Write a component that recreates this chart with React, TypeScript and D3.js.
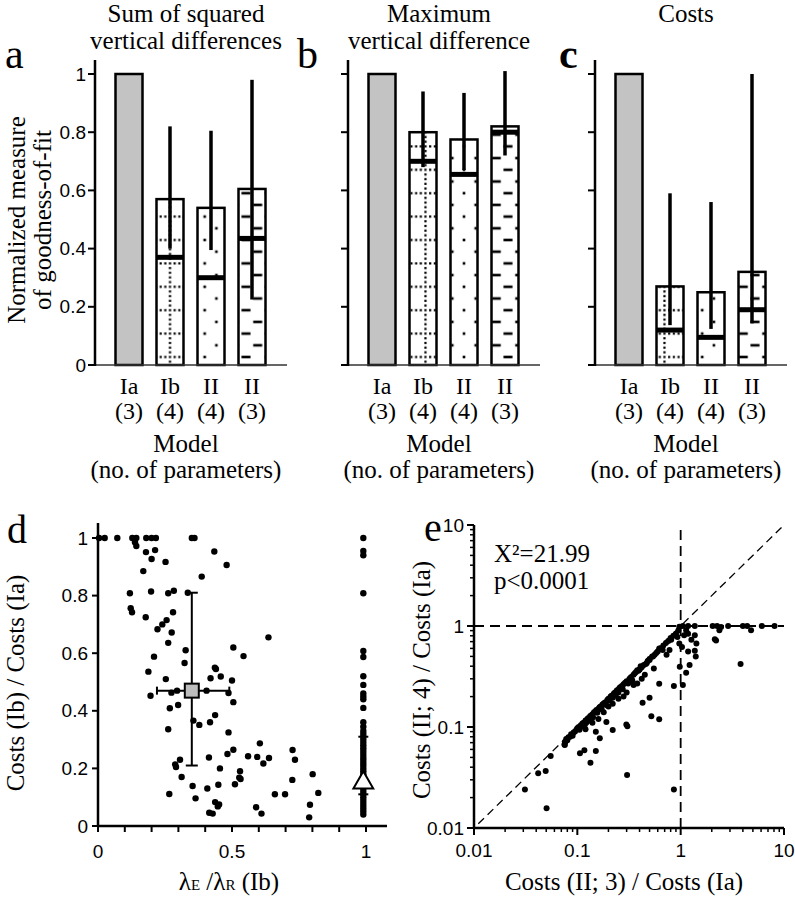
import React from "react";
import * as d3 from "d3";

// ---------- Data: panels a–c ----------
const barKeys = ["Ia3", "Ib4", "II4", "II3"];
const modelNames = ["Ia", "Ib", "II", "II"];
const paramCounts = ["(3)", "(4)", "(4)", "(3)"];
const barYTicks = [0, 0.2, 0.4, 0.6, 0.8, 1];
const barYTickLabels = ["0", "0.2", "0.4", "0.6", "0.8", "1"];

const ssdMean = [1, 0.57, 0.54, 0.605];
const ssdMedian = [null, 0.37, 0.3, 0.435];
const ssdLo = [null, 0.4, 0.395, 0.225];
const ssdHi = [null, 0.82, 0.805, 0.98];

const maxMean = [1, 0.8, 0.775, 0.82];
const maxMedian = [null, 0.7, 0.655, 0.8];
const maxLo = [null, 0.68, 0.67, 0.72];
const maxHi = [null, 0.94, 0.935, 1.01];

const costMean = [1, 0.27, 0.25, 0.32];
const costMedian = [null, 0.12, 0.095, 0.19];
const costLo = [null, 0.137, 0.124, 0.143];
const costHi = [null, 0.59, 0.56, 1.0];

// ---------- Data: panel d ----------
const dX = [0.004, 0.025, 0.072, 0.128, 0.143, 0.18, 0.2, 0.216, 0.35, 0.36, 0.138, 0.143,
  0.179, 0.213, 0.2, 0.252, 0.169, 0.434, 0.48, 0.387, 0.119, 0.198, 0.262, 0.283, 0.335,
  0.122, 0.127, 0.178, 0.28, 0.256, 0.24, 0.222, 0.275, 0.262, 0.209, 0.327, 0.323, 0.505, 0.543, 0.636,
  0.436, 0.188, 0.196, 0.253, 0.274, 0.295, 0.268, 0.299, 0.262, 0.356, 0.378, 0.405, 0.42, 0.458, 0.44,
  0.487, 0.5, 0.505, 0.437, 0.418, 0.487, 0.483, 0.505, 0.414, 0.455, 0.56, 0.594, 0.604, 0.638, 0.617,
  0.53, 0.527, 0.532, 0.511, 0.288, 0.291, 0.306, 0.312, 0.266, 0.353, 0.364, 0.408, 0.449, 0.437, 0.452,
  0.447, 0.415, 0.428, 0.59, 0.61, 0.66, 0.726, 0.735, 0.725, 0.698, 0.801, 0.822, 0.791, 0.788];
const dY = [1, 1, 1, 1, 1, 1, 1, 1, 1, 1, 0.985, 0.972,
  0.951, 0.958, 0.927, 0.917, 0.885, 0.953, 0.906, 0.866, 0.808, 0.814, 0.808, 0.817, 0.81,
  0.756, 0.742, 0.725, 0.742, 0.715, 0.7, 0.683, 0.672, 0.636, 0.588, 0.61, 0.566, 0.62, 0.59, 0.655,
  0.55, 0.536, 0.452, 0.51, 0.463, 0.47, 0.409, 0.42, 0.336, 0.366, 0.351, 0.47, 0.513, 0.519, 0.545,
  0.462, 0.505, 0.43, 0.385, 0.36, 0.325, 0.25, 0.265, 0.238, 0.2, 0.242, 0.24, 0.287, 0.236, 0.217,
  0.19, 0.168, 0.163, 0.145, 0.214, 0.205, 0.23, 0.17, 0.111, 0.139, 0.096, 0.13, 0.143, 0.083, 0.075,
  0.068, 0.046, 0.043, 0.065, 0.043, 0.11, 0.264, 0.23, 0.16, 0.11, 0.18, 0.115, 0.074, 0.03];
// points at lambda ratio = 1
const dColumnY = [1.0, 0.955, 0.94, 0.808, 0.608, 0.587, 0.52, 0.49, 0.46, 0.45, 0.44, 0.41, 0.36, 0.345,
  0.33, 0.32, 0.31, 0.3, 0.29, 0.28, 0.27, 0.26, 0.25, 0.24, 0.23, 0.22, 0.21, 0.2, 0.19, 0.18, 0.17,
  0.16, 0.15, 0.14, 0.13, 0.12, 0.11, 0.1, 0.09, 0.08, 0.07, 0.06, 0.05, 0.04];
const dColumnX = 0.99;
const dSummarySquare = { x: 0.35, y: 0.47, xLo: 0.22, xHi: 0.49, yLo: 0.21, yHi: 0.81 };
const dSummaryTriangle = { x: 0.99, y: 0.15, yLo: 0.11, yHi: 0.31 };
const dXTicks = [0, 0.1, 0.2, 0.3, 0.4, 0.5, 0.6, 0.7, 0.8, 0.9, 1];
const dXTickLabels = [[0, "0"], [0.5, "0.5"], [1, "1"]];
const dYTicks = [0, 0.2, 0.4, 0.6, 0.8, 1];
const dYTickLabels = ["0", "0.2", "0.4", "0.6", "0.8", "1"];

// ---------- Data: panel e ----------
const eX = [0.075, 0.077, 0.078, 0.08, 0.082, 0.085, 0.087, 0.09, 0.092, 0.095, 0.098, 0.1, 0.103, 0.105,
  0.108, 0.11, 0.112, 0.115, 0.118, 0.12, 0.122, 0.125, 0.128, 0.13, 0.133, 0.136, 0.14, 0.142, 0.145,
  0.15, 0.153, 0.156, 0.16, 0.164, 0.168, 0.172, 0.175, 0.18, 0.185, 0.19, 0.195, 0.2, 0.205, 0.21, 0.215,
  0.22, 0.225, 0.23, 0.235, 0.24, 0.245, 0.25, 0.255, 0.26, 0.27, 0.275, 0.28, 0.29, 0.3, 0.31, 0.32,
  0.33, 0.34, 0.35, 0.36, 0.37, 0.39, 0.4, 0.42, 0.44, 0.46, 0.48, 0.5, 0.53, 0.56, 0.6, 0.64, 0.68, 0.72,
  0.76, 0.8, 0.85, 0.9, 0.95,
  0.12, 0.14, 0.18, 0.2, 0.25, 0.3, 0.35, 0.42, 0.28, 0.38, 0.45, 0.55, 0.16, 0.22,
  0.0311, 0.0504, 0.0418, 0.0494, 0.0552, 0.0757, 0.076, 0.106, 0.117, 0.134, 0.151, 0.151, 0.165,
  0.191, 0.22, 0.298, 0.305, 0.303, 0.428, 0.5, 0.52, 0.62, 0.62, 0.86, 0.86, 0.98, 1.05, 1.13, 1.22, 3.8,
  1.18, 1.37, 2.04, 2.25, 2.46, 2.88, 4.0, 4.4, 4.8, 6.1, 8.1, 2.37, 2.14, 2.2,
  0.97, 1.05, 1.13, 1.08, 1.18, 1.27, 1.37, 1.42, 1.37, 1.4, 1.18, 1.03, 0.97, 0.93, 0.81, 0.78, 0.73,
  0.67, 0.62, 0.58, 0.54, 0.5, 0.47, 0.41, 0.4, 0.38];
const eY = [0.067, 0.072, 0.076, 0.074, 0.079, 0.08, 0.085, 0.082, 0.088, 0.09, 0.094, 0.097, 0.1, 0.094,
  0.104, 0.101, 0.108, 0.11, 0.105, 0.116, 0.11, 0.12, 0.123, 0.115, 0.128, 0.13, 0.134, 0.125, 0.14,
  0.143, 0.147, 0.138, 0.152, 0.157, 0.16, 0.15, 0.167, 0.171, 0.175, 0.165, 0.185, 0.19, 0.183, 0.2, 0.204,
  0.195, 0.214, 0.218, 0.205, 0.228, 0.232, 0.22, 0.242, 0.247, 0.255, 0.236, 0.265, 0.275, 0.284, 0.27, 0.3,
  0.31, 0.29, 0.33, 0.34, 0.35, 0.36, 0.37, 0.39, 0.41, 0.42, 0.45, 0.47, 0.5, 0.52, 0.56, 0.6, 0.64, 0.68,
  0.71, 0.76, 0.8, 0.84, 0.9,
  0.095, 0.11, 0.14, 0.16, 0.19, 0.22, 0.26, 0.3, 0.2, 0.27, 0.33, 0.38, 0.12, 0.17,
  0.0241, 0.0157, 0.0348, 0.0367, 0.0516, 0.0664, 0.0715, 0.055, 0.059, 0.0443, 0.058, 0.0898, 0.0772,
  0.112, 0.0935, 0.106, 0.102, 0.0335, 0.174, 0.195, 0.128, 0.119, 0.268, 0.0241, 0.254, 0.395, 0.26, 0.345, 0.41, 0.42,
  1, 1, 1, 1, 0.98, 1, 1, 1, 0.91, 1, 1, 0.91, 0.738, 0.72,
  0.985, 1.0, 0.91, 0.81, 0.84, 0.73, 0.81, 0.67, 0.57, 0.5, 0.56, 0.62, 0.67, 0.78, 0.73, 0.58, 0.52,
  0.58, 0.6, 0.54, 0.5, 0.46, 0.43, 0.4, 0.37, 0.365];
const eMajorTicks = [0.01, 0.1, 1, 10];
const eMajorLabels = ["0.01", "0.1", "1", "10"];
const eStatLines = ["X\u00B2=21.99", "p<0.0001"];

const SERIF = "'Liberation Serif', 'Times New Roman', serif";
const SANS = "'Liberation Sans', Arial, sans-serif";

type BarProps = {
  pid: string; ax: number; title: string[]; letter: string; letterX: number; letterBold?: boolean;
  mean: number[]; median: (number | null)[]; lo: (number | null)[]; hi: (number | null)[];
  tickLabels: boolean; yLabel: boolean; patOff: number[];
};

function BarPanel(p: BarProps) {
  const y = d3.scaleLinear().domain([0, 1]).range([365, 74]);
  const x = d3.scalePoint<string>().domain(barKeys).range([p.ax + 34, p.ax + 157]);
  const bw = 27;
  const cx = p.ax + 91;
  const cell = 23.4;
  const oy = y(0) - 8;
  const defs: React.ReactNode[] = [];
  barKeys.forEach((k, i) => {
    if (i === 0) return;
    const ox = (x(k) as number) + p.patOff[i];
    const id = `pat-${p.pid}-${i}`;
    if (i === 1) {
      const s = cell / 5;
      const els: React.ReactNode[] = [];
      for (let j = 0; j < 5; j++) {
        els.push(<rect key={"h" + j} x={s / 2 + j * s - 1.1} y={s / 2 - 1.1} width={2.2} height={2.2} fill="#000" />);
        if (j > 0) els.push(<rect key={"v" + j} x={s / 2 - 1.1} y={s / 2 + j * s - 1.1} width={2.2} height={2.2} fill="#000" />);
      }
      defs.push(<pattern key={id} id={id} patternUnits="userSpaceOnUse" x={ox - s / 2} y={oy - s / 2} width={cell} height={cell}>{els}</pattern>);
    } else {
      const a = cell / 4;
      const w = i === 2 ? 2.6 : 9;
      defs.push(
        <pattern key={id} id={id} patternUnits="userSpaceOnUse" x={ox - a} y={oy - a} width={cell} height={cell}>
          <rect x={a - w / 2} y={a - 1.3} width={w} height={2.6} fill="#000" />
          <rect x={3 * a - w / 2} y={3 * a - 1.3} width={w} height={2.6} fill="#000" />
        </pattern>
      );
    }
  });
  return (
    <g>
      <defs>{defs}</defs>
      {p.title.map((t, i) => (
        <text key={i} x={cx} y={22 + i * 27} textAnchor="middle" fontFamily={SERIF} fontSize={25}>{t}</text>
      ))}
      <text x={p.letterX} y={68} fontFamily={SERIF} fontSize={42} fontWeight={p.letterBold ? "bold" : "normal"}>{p.letter}</text>
      {p.yLabel && (
        <g>
          <text transform={`translate(25,220) rotate(-90)`} textAnchor="middle" fontFamily={SERIF} fontSize={25}>Normalized measure</text>
          <text transform={`translate(51,220) rotate(-90)`} textAnchor="middle" fontFamily={SERIF} fontSize={25}>of goodness-of-fit</text>
        </g>
      )}
      {barKeys.map((k, i) => {
        const bx = (x(k) as number) - bw / 2;
        const top = y(p.mean[i]);
        const h = y(0) - top;
        return (
          <g key={k}>
            <rect x={bx} y={top} width={bw} height={h} fill={i === 0 ? "#c3c3c3" : "#fff"} />
            {i > 0 && <rect x={bx} y={top} width={bw} height={h} fill={`url(#pat-${p.pid}-${i})`} />}
            <rect x={bx} y={top} width={bw} height={h} fill="none" stroke="#000" strokeWidth={2.5} />
            {p.median[i] != null && (
              <line x1={bx} x2={bx + bw} y1={y(p.median[i] as number)} y2={y(p.median[i] as number)} stroke="#000" strokeWidth={5} />
            )}
            {p.hi[i] != null && (
              <line x1={x(k)} x2={x(k)} y1={y(p.hi[i] as number)} y2={y(p.lo[i] as number)} stroke="#000" strokeWidth={3.5} />
            )}
          </g>
        );
      })}
      <line x1={p.ax} x2={p.ax + 192} y1={y(0)} y2={y(0)} stroke="#333" strokeWidth={1.5} />
      <line x1={p.ax} x2={p.ax} y1={y(0) + 1} y2={60} stroke="#000" strokeWidth={2.5} />
      {barYTicks.map((t, i) => (
        <g key={t}>
          <line x1={p.ax - 7} x2={p.ax} y1={y(t)} y2={y(t)} stroke="#000" strokeWidth={2} />
          {p.tickLabels && (
            <text x={p.ax - 9} y={y(t) + 6.5} textAnchor="end" fontFamily={SANS} fontSize={19}>{barYTickLabels[i]}</text>
          )}
        </g>
      ))}
      {barKeys.map((k, i) => (
        <g key={"l" + k}>
          <text x={x(k)} y={394} textAnchor="middle" fontFamily={SERIF} fontSize={24}>{modelNames[i]}</text>
          <text x={x(k)} y={419} textAnchor="middle" fontFamily={SERIF} fontSize={24}>{paramCounts[i]}</text>
        </g>
      ))}
      <text x={cx} y={452} textAnchor="middle" fontFamily={SERIF} fontSize={25}>Model</text>
      <text x={cx} y={478} textAnchor="middle" fontFamily={SERIF} fontSize={25}>(no. of parameters)</text>
    </g>
  );
}

function PanelD() {
  const x = d3.scaleLinear().domain([0, 1]).range([98, 366]);
  const y = d3.scaleLinear().domain([0, 1]).range([826, 538]);
  const s = dSummarySquare;
  const t = dSummaryTriangle;
  const tri = d3.symbol().type(d3.symbolTriangle).size(170)();
  return (
    <g>
      <text x={7} y={543} fontFamily={SERIF} fontSize={40}>d</text>
      <text transform={`translate(24,683) rotate(-90)`} textAnchor="middle" fontFamily={SERIF} fontSize={25}>Costs (Ib) / Costs (Ia)</text>
      {dX.map((v, i) => (
        <circle key={i} cx={x(v)} cy={y(dY[i])} r={3.2} fill="#000" />
      ))}
      {dColumnY.map((v, i) => (
        <circle key={"c" + i} cx={x(dColumnX)} cy={y(v)} r={3.2} fill="#000" />
      ))}
      <line x1={x(s.x)} x2={x(s.x)} y1={y(s.yLo)} y2={y(s.yHi)} stroke="#000" strokeWidth={2} />
      <line x1={x(s.x) - 6} x2={x(s.x) + 6} y1={y(s.yLo)} y2={y(s.yLo)} stroke="#000" strokeWidth={2} />
      <line x1={x(s.x) - 6} x2={x(s.x) + 6} y1={y(s.yHi)} y2={y(s.yHi)} stroke="#000" strokeWidth={2} />
      <line x1={x(s.xLo)} x2={x(s.xHi)} y1={y(s.y)} y2={y(s.y)} stroke="#000" strokeWidth={2} />
      <line x1={x(s.xLo)} x2={x(s.xLo)} y1={y(s.y) - 4} y2={y(s.y) + 4} stroke="#000" strokeWidth={2} />
      <line x1={x(s.xHi)} x2={x(s.xHi)} y1={y(s.y) - 4} y2={y(s.y) + 4} stroke="#000" strokeWidth={2} />
      <rect x={x(s.x) - 7} y={y(s.y) - 7} width={14} height={14} fill="#bdbdbd" stroke="#000" strokeWidth={2} />
      <line x1={x(t.x)} x2={x(t.x)} y1={y(t.yLo)} y2={y(t.yHi)} stroke="#000" strokeWidth={2} />
      <line x1={x(t.x) - 5} x2={x(t.x) + 5} y1={y(t.yLo)} y2={y(t.yLo)} stroke="#000" strokeWidth={2} />
      <line x1={x(t.x) - 5} x2={x(t.x) + 5} y1={y(t.yHi)} y2={y(t.yHi)} stroke="#000" strokeWidth={2} />
      <path d={tri as string} transform={`translate(${x(t.x)},${y(t.y)})`} fill="#fff" stroke="#000" strokeWidth={2} />
      <line x1={x(0)} x2={387} y1={y(0)} y2={y(0)} stroke="#000" strokeWidth={2.5} />
      <line x1={x(0)} x2={x(0)} y1={y(0)} y2={523} stroke="#000" strokeWidth={2.5} />
      {dXTicks.map((v) => (
        <line key={v} x1={x(v)} x2={x(v)} y1={y(0)} y2={y(0) + 6} stroke="#000" strokeWidth={2} />
      ))}
      {dYTicks.map((v, i) => (
        <g key={v}>
          <line x1={x(0) - 6} x2={x(0)} y1={y(v)} y2={y(v)} stroke="#000" strokeWidth={2} />
          <text x={x(0) - 10} y={y(v) + 6.5} textAnchor="end" fontFamily={SANS} fontSize={19}>{dYTickLabels[i]}</text>
        </g>
      ))}
      {dXTickLabels.map(([v, l]) => (
        <text key={l as string} x={x(v as number)} y={858} textAnchor="middle" fontFamily={SANS} fontSize={19}>{l}</text>
      ))}
      <text x={229} y={890} textAnchor="middle" fontFamily={SERIF} fontSize={25}>
        <tspan>λ</tspan><tspan fontSize={15}>E</tspan><tspan> /λ</tspan><tspan fontSize={15}>R</tspan><tspan> (Ib)</tspan>
      </text>
    </g>
  );
}

function PanelE() {
  const x = d3.scaleLog().domain([0.01, 10]).range([474, 784]);
  const y = d3.scaleLog().domain([0.01, 10]).range([828, 525]);
  const minor: number[] = [];
  [0.01, 0.1, 1].forEach((d) => { for (let m = 2; m <= 9; m++) minor.push(d * m); });
  return (
    <g>
      <text x={424} y={541} fontFamily={SERIF} fontSize={40}>e</text>
      <text transform={`translate(430,680) rotate(-90)`} textAnchor="middle" fontFamily={SERIF} fontSize={25}>Costs (II; 4) / Costs (Ia)</text>
      {eStatLines.map((l, i) => (
        <text key={l} x={494} y={562 + i * 27} fontFamily={SERIF} fontSize={25}>{l}</text>
      ))}
      <line x1={x(0.01)} x2={x(10)} y1={y(1)} y2={y(1)} stroke="#000" strokeWidth={1.8} strokeDasharray="10,6" />
      <line x1={x(1)} x2={x(1)} y1={y(0.01)} y2={y(10)} stroke="#000" strokeWidth={1.8} strokeDasharray="10,6" />
      <line x1={x(0.011)} x2={x(10)} y1={y(0.011)} y2={y(10)} stroke="#000" strokeWidth={1.3} strokeDasharray="8,5" />
      {eX.map((v, i) => (
        <circle key={i} cx={x(v)} cy={y(eY[i])} r={3} fill="#000" />
      ))}
      <line x1={x(0.01)} x2={x(10)} y1={y(0.01)} y2={y(0.01)} stroke="#000" strokeWidth={2.5} />
      <line x1={x(0.01)} x2={x(0.01)} y1={y(0.01)} y2={y(10)} stroke="#000" strokeWidth={2.5} />
      {minor.map((v) => (
        <g key={"m" + v}>
          <line x1={x(v)} x2={x(v)} y1={y(0.01)} y2={y(0.01) + 4} stroke="#000" strokeWidth={1.5} />
          <line x1={x(0.01) - 4} x2={x(0.01)} y1={y(v)} y2={y(v)} stroke="#000" strokeWidth={1.5} />
        </g>
      ))}
      {eMajorTicks.map((v, i) => (
        <g key={"M" + v}>
          <line x1={x(v)} x2={x(v)} y1={y(0.01)} y2={y(0.01) + 7} stroke="#000" strokeWidth={2} />
          <line x1={x(0.01) - 7} x2={x(0.01)} y1={y(v)} y2={y(v)} stroke="#000" strokeWidth={2} />
          <text x={x(v)} y={857} textAnchor="middle" fontFamily={SANS} fontSize={19}>{eMajorLabels[i]}</text>
          <text x={x(0.01) - 10} y={y(v) + 6.5} textAnchor="end" fontFamily={SANS} fontSize={19}>{eMajorLabels[i]}</text>
        </g>
      ))}
      <text x={624} y={890} textAnchor="middle" fontFamily={SERIF} fontSize={25}>Costs (II; 3) / Costs (Ia)</text>
    </g>
  );
}

export default function App() {
  return (
    <svg width={795} height={899} viewBox="0 0 795 899" style={{ position: "absolute", left: 0, top: 0, background: "#fff" }}>
      <rect x={0} y={0} width={795} height={899} fill="#fff" />
      <BarPanel pid="a" ax={95} title={["Sum of squared", "vertical differences"]} letter="a" letterX={5}
        mean={ssdMean} median={ssdMedian} lo={ssdLo} hi={ssdHi} tickLabels={true} yLabel={true} patOff={[0, 0, -6.3, -6]} />
      <BarPanel pid="b" ax={348} title={["Maximum", "vertical difference"]} letter="b" letterX={297}
        mean={maxMean} median={maxMedian} lo={maxLo} hi={maxHi} tickLabels={false} yLabel={false} patOff={[0, 2.5, 0, 3]} />
      <BarPanel pid="c" ax={595} title={["Costs"]} letter="c" letterX={559} letterBold={true}
        mean={costMean} median={costMedian} lo={costLo} hi={costHi} tickLabels={false} yLabel={false} patOff={[0, -5.5, -8.8, -8.7]} />
      <PanelD />
      <PanelE />
    </svg>
  );
}
